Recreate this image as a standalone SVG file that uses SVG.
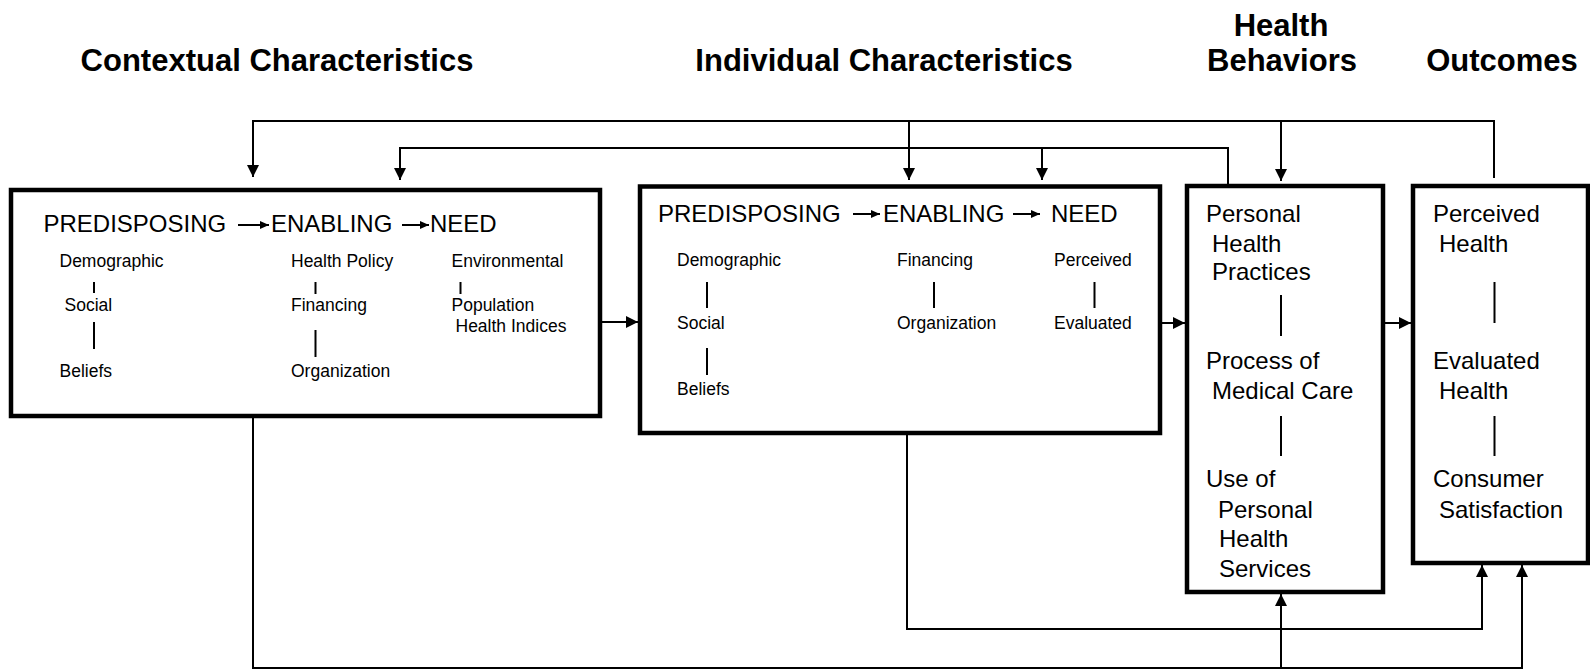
<svg xmlns="http://www.w3.org/2000/svg" width="1590" height="670" viewBox="0 0 1590 670">
<style>
text{font-family:"Liberation Sans",Arial,sans-serif;fill:#000}
.title{font-size:31px;font-weight:bold;text-anchor:middle}
.head{font-size:24px}
.sm{font-size:17.5px}
.lg{font-size:24px}
.box{fill:#fff;stroke:#000;stroke-width:4.5}
.tick{stroke:#000;stroke-width:2;fill:none}
.conn{stroke:#000;stroke-width:2;fill:none}
.harr{stroke:#000;stroke-width:2;fill:none;marker-end:url(#sa)}
</style>
<defs>
<marker id="ah" viewBox="0 0 12 12" refX="12" refY="6" markerWidth="12" markerHeight="12" markerUnits="userSpaceOnUse" orient="auto"><path d="M0,0 L12,6 L0,12 z" fill="#000"/></marker>
<marker id="sa" viewBox="0 0 9 8" refX="9" refY="4" markerWidth="9" markerHeight="8" markerUnits="userSpaceOnUse" orient="auto"><path d="M0,0 L9,4 L0,8 z" fill="#000"/></marker>
</defs>
<rect width="1590" height="670" fill="#fff"/>

<g id="titles">
<text class="title" x="277" y="71">Contextual Characteristics</text>
<text class="title" x="884" y="71">Individual Characteristics</text>
<text class="title" x="1281" y="36">Health</text>
<text class="title" x="1282" y="71">Behaviors</text>
<text class="title" x="1502" y="71">Outcomes</text>
</g>

<g id="connectors">
<path class="conn" d="M1494,178 V121 H253 V177" marker-end="url(#ah)"/>
<path class="conn" d="M909,121 V180" marker-end="url(#ah)"/>
<path class="conn" d="M1281,121 V181" marker-end="url(#ah)"/>
<path class="conn" d="M1228,186 V148 H400 V180" marker-end="url(#ah)"/>
<path class="conn" d="M1042,148 V180" marker-end="url(#ah)"/>
<path class="conn" d="M601,322 H638" marker-end="url(#ah)"/>
<path class="conn" d="M1160,323 H1185" marker-end="url(#ah)"/>
<path class="conn" d="M1384,323 H1411" marker-end="url(#ah)"/>
<path class="conn" d="M253,416 V668 H1522 V565" marker-end="url(#ah)"/>
<path class="conn" d="M1281,668 V594" marker-end="url(#ah)"/>
<path class="conn" d="M907,433 V629 H1482 V565" marker-end="url(#ah)"/>
</g>

<g id="contextual">
<rect class="box" x="11" y="190" width="589" height="226"/>
<text class="head" x="43.5" y="232">PREDISPOSING</text>
<path class="harr" d="M238,225 H269"/>
<text class="head" x="271" y="232">ENABLING</text>
<path class="harr" d="M402,225 H429"/>
<text class="head" x="430" y="232">NEED</text>
<text class="sm" x="59.5" y="267">Demographic</text>
<path class="tick" d="M94,282 V293"/>
<text class="sm" x="64.5" y="311">Social</text>
<path class="tick" d="M94,322 V349"/>
<text class="sm" x="59.5" y="377">Beliefs</text>
<text class="sm" x="291" y="267">Health Policy</text>
<path class="tick" d="M315.5,282 V294"/>
<text class="sm" x="291" y="311">Financing</text>
<path class="tick" d="M315.5,330 V357"/>
<text class="sm" x="291" y="377">Organization</text>
<text class="sm" x="451.5" y="267">Environmental</text>
<path class="tick" d="M460.5,282 V294"/>
<text class="sm" x="451.5" y="311">Population</text>
<text class="sm" x="455.5" y="332">Health Indices</text>
</g>

<g id="individual">
<rect class="box" x="640" y="186.5" width="520" height="246.5"/>
<text class="head" x="658" y="222">PREDISPOSING</text>
<path class="harr" d="M853,214 H880"/>
<text class="head" x="883" y="222">ENABLING</text>
<path class="harr" d="M1013,214 H1040"/>
<text class="head" x="1051" y="222">NEED</text>
<text class="sm" x="677" y="266">Demographic</text>
<path class="tick" d="M707,282 V308"/>
<text class="sm" x="677" y="329">Social</text>
<path class="tick" d="M707,348 V375"/>
<text class="sm" x="677" y="395">Beliefs</text>
<text class="sm" x="897" y="266">Financing</text>
<path class="tick" d="M934,282 V308"/>
<text class="sm" x="897" y="329">Organization</text>
<text class="sm" x="1054" y="266">Perceived</text>
<path class="tick" d="M1094.5,282 V308"/>
<text class="sm" x="1054" y="329">Evaluated</text>
</g>

<g id="health-behaviors">
<rect class="box" x="1187" y="186" width="196" height="406"/>
<text class="lg" x="1206" y="222">Personal</text>
<text class="lg" x="1212" y="252">Health</text>
<text class="lg" x="1212" y="280">Practices</text>
<path class="tick" d="M1281,295 V336"/>
<text class="lg" x="1206" y="369">Process of</text>
<text class="lg" x="1212" y="399">Medical Care</text>
<path class="tick" d="M1281,416 V456"/>
<text class="lg" x="1206" y="487">Use of</text>
<text class="lg" x="1218" y="518">Personal</text>
<text class="lg" x="1219" y="547">Health</text>
<text class="lg" x="1219" y="577">Services</text>
</g>

<g id="outcomes">
<rect class="box" x="1413" y="186" width="175" height="377"/>
<text class="lg" x="1433" y="222">Perceived</text>
<text class="lg" x="1439" y="252">Health</text>
<path class="tick" d="M1494.5,282 V323"/>
<text class="lg" x="1433" y="369">Evaluated</text>
<text class="lg" x="1439" y="399">Health</text>
<path class="tick" d="M1494.5,416 V456"/>
<text class="lg" x="1433" y="487">Consumer</text>
<text class="lg" x="1439" y="518">Satisfaction</text>
</g>
</svg>
